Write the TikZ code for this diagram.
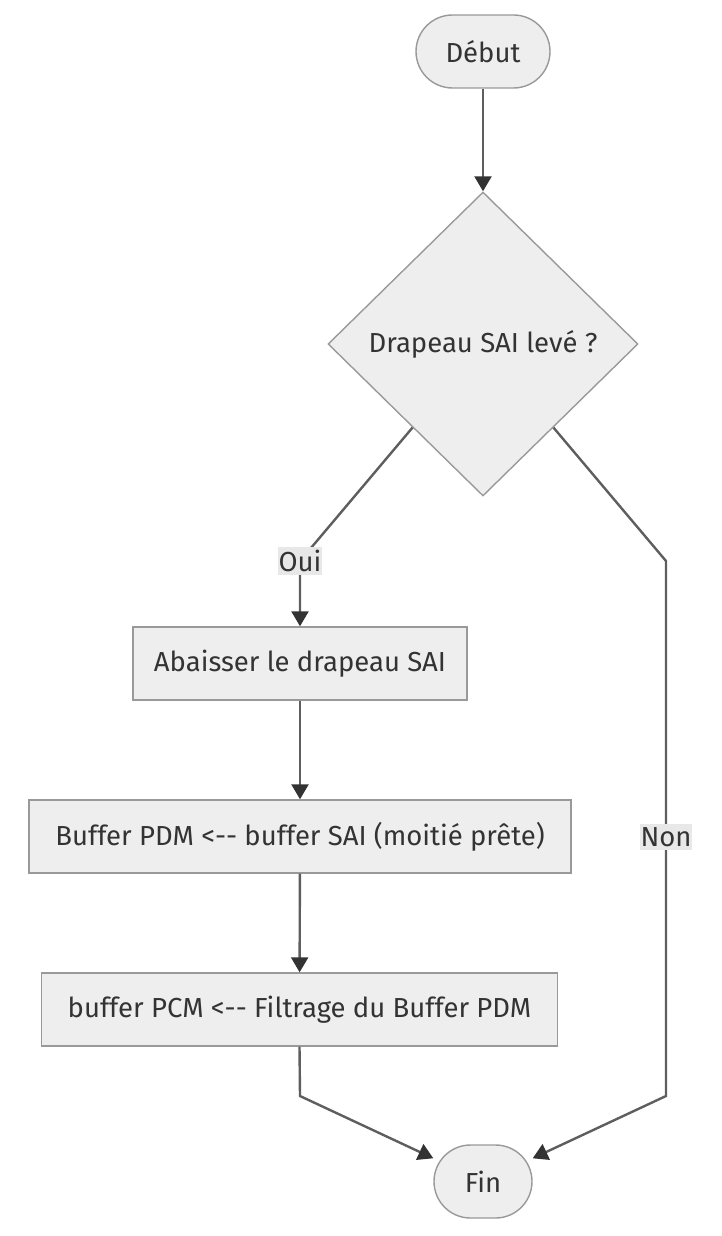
\documentclass[tikz,border=0pt]{standalone}
\usepackage{fontspec}
\setmainfont{Fira Sans}
\usetikzlibrary{shapes.geometric,arrows.meta}
\definecolor{nodefill}{HTML}{EEEEEE}
\definecolor{nodeborder}{HTML}{999999}
\definecolor{edgeline}{HTML}{5E5E5E}
\definecolor{arrowcol}{HTML}{333333}
\definecolor{textcol}{HTML}{333333}
\definecolor{labelbg}{HTML}{E8E8E8}
\tikzset{
  base/.style={draw=nodeborder, fill=nodefill, line width=1.4pt, text=textcol,
    font=\fontsize{27.5}{31}\selectfont, inner sep=0pt},
  procbox/.style={base, rectangle, minimum height=73pt},
  termbox/.style={base, rectangle, rounded corners=36.5pt, minimum height=73pt},
  decision/.style={base, diamond, minimum width=310pt, minimum height=304pt},
  flow/.style={draw=edgeline, line width=2.4pt,
    -{Triangle[length=15pt,width=17pt,color=arrowcol]}},
  edgelabel/.style={fill=labelbg, text=textcol, font=\fontsize{27.5}{31}\selectfont,
    inner xsep=1pt, inner ysep=3pt}
}
\begin{document}
\begin{tikzpicture}[x=1pt,y=-1pt]
\useasboundingbox (0,0) rectangle (722,1236);
\node[termbox, minimum width=134pt] (debut) at (483,51.5) {Début};
\node[decision] (dia) at (483,344) {Drapeau SAI levé ?};
\node[procbox, minimum width=334pt] (abaisser) at (300,663.5) {Abaisser le drapeau SAI};
\node[procbox, minimum width=542pt] (pdm) at (300,836.5) {Buffer PDM <-{}- buffer SAI (moitié prête)};
\node[procbox, minimum width=516pt] (pcm) at (299.5,1009.5) {buffer PCM <-{}- Filtrage du Buffer PDM};
\node[termbox, minimum width=98pt] (fin) at (483,1181.5) {Fin};

\coordinate (ouibend) at (300,561);
\coordinate (nonbend) at (666,561);
\coordinate (nonlow) at (666,1096);
\coordinate (pcmlow) at (300,1096);
\coordinate (nonlab) at (666,837);

\draw[flow] (debut) -- (dia);
\draw[flow] (dia) -- (ouibend) -- (abaisser.north);
\node[edgelabel] (oui) at (ouibend) {Oui};
\draw[flow] (dia) -- (nonbend) -- (nonlow) -- (fin);
\node[edgelabel] (non) at (nonlab) {Non};
\draw[flow] (abaisser) -- (pdm);
\draw[flow] (pdm) -- (pcm);
\draw[flow] (pcm.south) -- (pcmlow) -- (fin);
\end{tikzpicture}
\end{document}
